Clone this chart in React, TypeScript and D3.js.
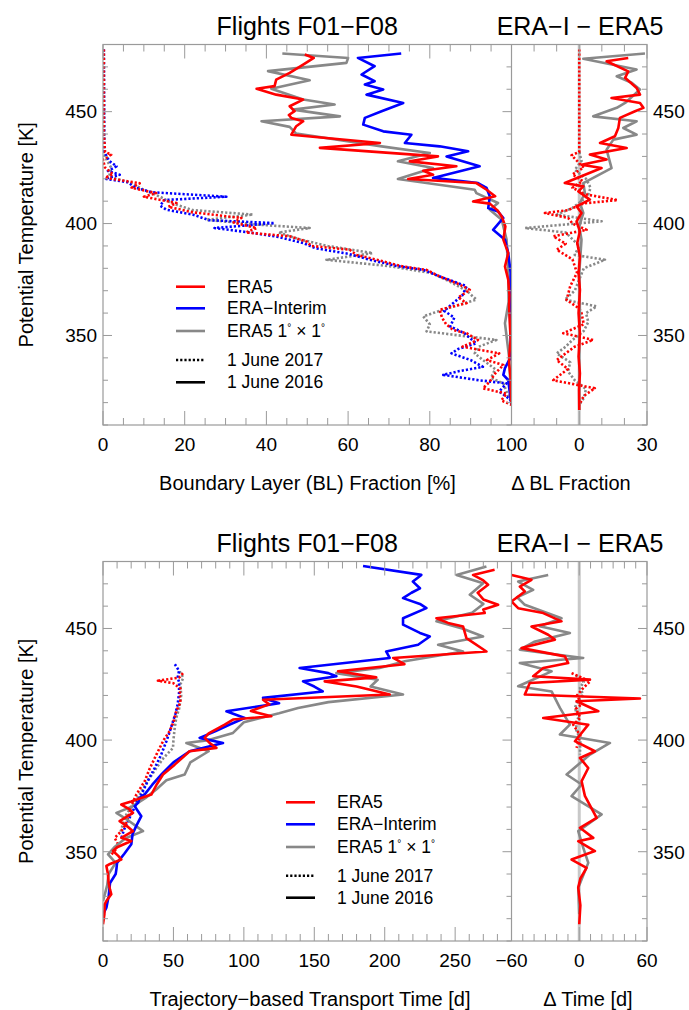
import React from 'react';
import * as d3 from 'd3';

type P = [number, number][]; // [theta (K), value]

// ---------- TOP PANEL: Boundary layer fraction (%) ----------
const blEra5_2016: P = [[475.5,49.4],[474,51.6],[471,49],[467.3,45.7],[464.3,42.4],[461.4,42],[460.2,37.6],[457.6,42.4],[455.4,49],[452.4,45.7],[450.2,46.9],[448.5,45.5],[447.2,46.1],[445.7,49],[443.5,47.3],[439.7,46.1],[436,67.8],[433.8,53.1],[430,82],[427.8,75.1],[425.6,86.5],[423.6,78.4],[421.8,80.8],[419.9,74.7],[418.1,91.4],[415.1,93.9],[412.2,96],[409.9,90.6],[408.9,94.7],[406,96.5],[403.2,97.6],[398.7,98.5],[392.8,98],[386.8,99.2],[380.8,98.4],[374.9,99.2],[368,99.5],[363,99.4],[355,99.6],[348,99.8],[342,99.5],[337.6,99.4],[331,99.8],[325.7,99.8],[319,100]];
const blEraI_2016: P = [[476,73],[474,62.4],[470.3,66.5],[466.6,63.3],[463.6,66.5],[462.1,64.1],[459.9,68.6],[457.6,64.5],[453.9,73.5],[450.2,68.2],[447.2,64.1],[444.2,63.7],[441.2,68.6],[439.7,75.5],[436,73.9],[434.5,82.4],[432.3,89.4],[430,84.1],[425.6,92.2],[420.4,80.8],[418.1,91.8],[415.9,93.9],[412.1,94.7],[406.9,94.3],[405.4,96.7],[402.5,98],[397.2,95.5],[392.8,98.4],[386.8,99.2],[377.9,99.8],[363,99.6],[348,99.8],[340,99.7],[335.4,98.4],[332.4,98],[330.1,99.2],[321.2,99.8],[319,100]];
const blEra5x1_2016: P = [[476,43.9],[474,60],[471.8,59.6],[468.1,40.4],[464,50.6],[460.2,41.2],[455.4,49],[453.2,56.7],[450.9,46.5],[447.9,58],[445.7,38.8],[443.2,45.7],[440.2,47.3],[434.5,68.2],[431.5,80],[427.8,72.2],[424.8,80.8],[419.9,72.2],[415.1,91],[413.6,91.4],[409.2,96.7],[406.2,94.7],[401.7,97.6],[392.8,98.8],[377.9,99.2],[365,99.3],[355.5,98.4],[352.5,98.6],[340.6,99.4],[325.7,99.8],[319,100]];
const blEra5_2017: P = [[477.8,0.2],[440,0.2],[432,0.5],[430.8,2],[428.5,0],[425,0.5],[422,2.5],[420.5,0.5],[418,9],[416,7],[413.6,13],[412,10],[409.2,18],[407.5,16],[405,22],[402.5,33.9],[400.5,32],[398,37.6],[396,35],[394.3,45.7],[392,49.8],[390,51],[388.3,60.4],[386,62],[383.8,67],[380.8,73.5],[379.3,79.2],[376.4,82.4],[373,87],[370.4,89.8],[367,87],[364.4,89],[361.5,82.4],[358,83],[355,84],[352.5,85.7],[351,89],[348,91.8],[345,88],[342,97],[339,94],[336.8,98],[333,96],[329,94.5],[326.4,93],[324,98.8],[321,97.5],[319,100]];
const blEraI_2017: P = [[477.8,0.2],[432,0.3],[428,1.5],[425.6,3.3],[423.5,1.2],[421.8,4.1],[420,0.5],[418.5,6],[416,8],[414,12],[412,30.2],[410.5,15],[408,14],[406.2,15.5],[404,22],[401.5,26],[400.2,42],[398,27.3],[396,36],[394,43],[391.3,49],[389,52],[386.5,60],[384,65],[381,72],[379.3,78.4],[376,83],[372,89],[368,88],[364.4,85.7],[361,83.5],[358,86],[354,85],[351,88.5],[348.5,90],[346.5,91.4],[344,87],[342,85.3],[339,90],[336,93],[334,87],[332.4,83.3],[330,92],[328.6,98.8],[325,97],[321,100]];
const blEra5x1_2017: P = [[477.8,0.2],[431,0.3],[428,1],[425,2],[421,1.5],[418,7],[415,10],[412,14],[409,17],[406,22],[404,36.7],[401.7,25.3],[399.5,38],[398,50.6],[396,43],[393,48],[390,55],[386.8,66],[383.8,54.7],[381,70],[377.9,80.4],[374,85],[370,89],[366,91.4],[362,84],[358.5,78.4],[355,80],[351.8,79.2],[348,96.3],[345,92],[342,91],[339,93],[335,96],[331,95],[328.6,98],[324,99],[320,100]];

// ERA-I minus ERA5 differences of BL fraction
const dBlRed_2016: P = [[474,21.7],[472.5,12.1],[468,21.7],[465.1,20.3],[460.6,25.4],[457.6,26.9],[456.1,14.3],[453.9,26.9],[451.7,28.4],[450.2,24.7],[447.2,18],[442.7,17.3],[439,15.8],[436,9.2],[433.8,21],[430.8,4.7],[428.6,12.1],[426.3,1],[424.8,9.9],[418.1,-6.4],[416.6,1.8],[414.4,-0.4],[410.7,4.7],[407.7,-1.2],[404.7,1],[401,-1.2],[396.5,0.3],[391.3,-0.9],[385.3,0.3],[377.9,-0.3],[370.4,0.3],[360,-0.3],[351,0.3],[340.6,-0.3],[333.1,0.3],[325.7,-0.1],[316.7,0]];
const dBlGray_2016: P = [[476,29.1],[473.6,1.8],[468.8,25.4],[465.8,16.6],[462.9,23.2],[459.9,26.9],[453.9,20.3],[451.7,16.6],[447.9,6.2],[445.7,25.4],[442.7,19.5],[439.7,25.4],[437.5,15.1],[433,12.1],[424.8,14.3],[418.1,1.8],[413.6,2.5],[409.2,0.3],[404.7,1.8],[398.7,0],[392.8,1],[377.9,0],[360,0.3],[340,0],[316.7,0]];
const dBlRed_2017: P = [[477.8,0],[432,0],[430.5,-3.4],[428,-1],[425,2],[422,-3],[419,1.5],[416,-3],[413,3],[410.5,17],[409,2],[406,-5],[404.7,-15.2],[402.5,-4.9],[400,-3],[397.2,3.3],[394.3,-11.5],[391,-6],[388.3,-10],[384,-3],[378,-1],[372,-4],[365.9,-5.6],[362,0],[360,1],[355,2],[351,-7.1],[348,6.2],[345,-2],[342,-6],[339,-10],[335,-5],[332,-9],[330,-11.5],[326.4,6.9],[323,2],[321,1],[319,0]];
const dBlGray_2017: P = [[432,0],[428,1],[424,-2],[420,3],[416,5],[412.9,4],[410,1],[407,-3],[404,-10],[401,9.9],[398,-24],[396,-6],[393,-3],[390,0],[386,-2],[383.8,11.4],[380,2],[375,0],[370,-2],[366,-6.4],[363,7.7],[360,3],[356,4],[352,2],[348,-3],[345,-6],[342,-10],[338,-4],[334,-5],[330,-2],[326,3],[322,2],[319,0]];

// ---------- BOTTOM PANEL: transport time (days) ----------
const ttEra5_2016: P = [[476.3,278],[474,262.7],[471.5,270],[469.6,273.4],[466,266],[463,270],[460.6,280.5],[458.5,270],[456.9,271],[454.6,236.7],[452.5,245],[450.9,255.6],[445.7,258],[439.7,272.2],[436.8,206],[434,214],[430.8,166.9],[428.1,194],[426.3,157.4],[424,180],[420.4,203.6],[418.1,113.6],[416,118],[413,105],[410.7,119.5],[409.2,92.3],[406.9,86.4],[403,75],[401,72.2],[398.5,76],[396.5,80.5],[395,61.5],[389,50.9],[384.6,42.6],[380,38],[375.6,34.3],[372.5,20],[371.1,13],[369,19],[367.4,21.3],[363.7,11.8],[361,18],[359.2,21.3],[356.2,13],[354.8,20.1],[352,10],[350.3,7.1],[348,11],[346.5,13],[344.5,5],[343.6,2.4],[340,3.5],[336,4],[333,5],[330.9,5.9],[328,2.5],[326.4,1.2],[322,1],[317.5,0]];
const ttEraI_2016: P = [[478,184.6],[474,226],[471,220],[468,225],[466,219],[463.6,213],[461,225],[459.1,229.6],[454.6,213],[451.7,213],[448,225],[446.4,232],[442.7,223.7],[439.7,201],[436.8,203.5],[432.3,139.6],[430,160],[428.6,165.7],[426.3,142],[424,150],[421.8,156],[418.9,113.6],[416.5,125],[412.9,87.6],[409.9,100.6],[407,90],[404,80],[401,68.6],[398.7,85.2],[395,61.5],[390,50],[385,42],[380,35],[376,30],[374.1,26],[372,25],[370.4,22.5],[365.9,27.2],[362,24],[358,21],[353.3,20.1],[349,15],[345,10],[342.1,9.5],[340,9],[336,5],[330,4],[324.9,2.4],[321.9,0]];
const ttEra5x1_2016: P = [[477.8,272.2],[474,251],[470.3,269.9],[465.1,260.4],[461,270],[457,262],[453.2,236.7],[450,255],[446.4,269.8],[442.7,237.9],[439.7,255.6],[435.3,214.2],[432.3,196.4],[430,165.7],[427,195],[424,190],[420.4,213],[417,160],[414.4,138.5],[412,125],[408,100],[403.2,92.3],[400,75],[398.7,59.2],[395,75],[390,62],[384.6,58],[382,45],[378,38],[374,30],[370,20],[367.4,9.5],[364,18],[359.2,28.4],[356,16],[352,8],[348.8,3.6],[345,9],[340,4],[335,3],[327.9,0]];
const ttEra5_2017: P = [[430,56.8],[428,54],[426.6,39],[425.5,50],[423,55],[420.4,54.4],[417,55],[412.9,52],[408,50],[404,47.3],[400,43],[393.5,37.9],[387,33],[381.6,29.6],[375.6,23.7],[372,21],[368,19],[365.2,17.8],[362,16],[359.2,13],[356.2,8.3],[353,11],[350,8],[348.8,5.9]];
const ttEraI_2017: P = [[434,51],[431,54],[428,53],[426,54],[421,54],[416,53],[412,51.5],[408.4,49.7],[404,47.5],[399.5,45],[393,41],[387.5,36.7],[382,32],[377.1,28.4],[372,24],[368,21],[365.2,18.9],[360,15],[356,13]];
const ttEra5x1_2017: P = [[430.8,54.4],[428,57],[425,55],[420,55.5],[414,54],[410,52],[405.4,50.9],[400,50],[396.5,49.7],[392,43],[387.5,37.9],[381,31],[375.6,26],[371,21],[366.7,16.6],[362,14],[358,12]];

// ERA-I minus ERA5 differences of transport time
const dTtRed_2016: P = [[474,-60],[471.8,-42.3],[468.8,-52.6],[466.6,-48.2],[462.1,-60],[459.1,-54.1],[456.9,-31.9],[453.2,-15.7],[450.9,-42.3],[447.2,-27.5],[445,-21.6],[441.2,-51.1],[437.5,-12.7],[434.5,-9.8],[432.3,-31.9],[428.6,-40.8],[427.1,9.5],[425.6,-43.8],[420.4,-48.2],[418.6,53.8],[417.4,-2.4],[412.9,16.9],[409.9,-31.9],[406.9,8],[399.5,-3.8],[395,13.9],[392,0.6],[387.5,8],[381.6,2.1],[375,5],[365.2,15.4],[360.7,0.6],[356.2,12.4],[354.7,-0.9],[350.3,13.9],[346.5,-6.8],[342.8,6.5],[338,1],[333.9,-0.9],[326,1],[317.5,0]];
const dTtGray_2016: P = [[474,-27.5],[471,-54.1],[467.3,-40.8],[464,-55],[460.6,-48.2],[454.6,-15.7],[451,-35],[448,-8.3],[444,-40],[440.5,-52.6],[436.8,3.5],[434.5,-52.6],[430.8,-24.5],[424.1,-54.1],[421.8,-24.5],[414.4,-17.1],[406.9,-8.3],[402.5,-17.1],[398.7,27.2],[393.5,9.5],[384.6,-11.2],[380.1,2.1],[374.9,-6.8],[366.7,19.8],[359.2,-0.9],[351.8,3.5],[345,8],[333.9,-0.9],[322,0]];
const dTtRed_2017: P = [[430,-6.8],[428,2],[426.3,9.5],[423,3],[420,-2],[416,2],[414,-3],[410,1],[406.9,-5.3],[402,1],[396.5,-2.4]];
const dTtGray_2017: P = [[429,-3],[426,4],[423.4,0.6],[420.4,3.5],[417,-2],[414.4,-3.8],[410,-1],[405,-3],[400,1],[393.5,0.6]];

// axis ticks / labels
const THETA_DOMAIN: [number, number] = [310, 480];
const blTickLabels = [0, 20, 40, 60, 80, 100];
const dBlTickLabels = [0, 30];
const ttTickLabels = [0, 50, 100, 150, 200, 250];
const dTtTickLabels = [-60, 0, 60];
const thetaTickLabels = [350, 400, 450];
const legendNames = ['ERA5', 'ERA\u2212Interim', 'ERA5 1x1', '1 June 2017', '1 June 2016'];

const RED = '#ff0000', BLUE = '#0000ff', GRAY = '#888888';
const FRAME = '#9a9a9a';
const FONT = "'Liberation Sans', Arial, Helvetica, sans-serif";

const fmt = (v: number) => (v < 0 ? '\u2212' + Math.abs(v) : String(v));

type Series = { data: P; color: string; dotted: boolean };

interface PanelProps {
  id: string;
  top: number;
  bottom: number;
  mainDomain: [number, number];
  rightDomain: [number, number];
  mainMinor: number;
  mainMajor: number;
  rightMinor: number;
  rightMajor: number[];
  mainLabels: number[];
  rightLabels: number[];
  mainSeries: Series[];
  rightSeries: Series[];
  title1: string;
  title2: string;
  xTitle: string;
  xTitleX: number;
  dTitle: string;
  dTitleX: number;
  legendX: number;
  legendY: number[];
}

const X0 = 103, X1 = 511.5, X2 = 647;

function Panel(p: PanelProps) {
  const y = d3.scaleLinear().domain(THETA_DOMAIN).range([p.bottom, p.top]);
  const xm = d3.scaleLinear().domain(p.mainDomain).range([X0, X1]);
  const xr = d3.scaleLinear().domain(p.rightDomain).range([X1, X2]);
  const lineM = d3.line<[number, number]>().x(d => xm(d[1])).y(d => y(d[0]));
  const lineR = d3.line<[number, number]>().x(d => xr(d[1])).y(d => y(d[0]));
  const thetaTicks = d3.range(THETA_DOMAIN[0], THETA_DOMAIN[1] + 0.1, 10);
  const mainTicks = d3.range(p.mainDomain[0], p.mainDomain[1] + 0.01, p.mainMinor);
  const rightTicks = d3.range(p.rightDomain[0], p.rightDomain[1] + 0.01, p.rightMinor);
  const majLen = 14, minLen = 7, yMaj = 9, yMin = 5;
  const seriesEl = (s: Series, gen: any, i: number) => (
    <path key={i} d={gen(s.data) || ''} fill="none" stroke={s.color} strokeWidth={2.6}
      strokeDasharray={s.dotted ? '2.2 2' : undefined} strokeLinejoin="round" />
  );
  const legColors = [RED, BLUE, GRAY, '#000', '#000'];
  return (
    <g>
      <defs>
        <clipPath id={p.id + 'm'}><rect x={X0} y={p.top} width={X1 - X0} height={p.bottom - p.top} /></clipPath>
        <clipPath id={p.id + 'r'}><rect x={X1} y={p.top} width={X2 - X1} height={p.bottom - p.top} /></clipPath>
      </defs>
      {/* titles */}
      <text x={(X0 + X1) / 2} y={p.top - 9.5} textAnchor="middle" fontSize={25} fontFamily={FONT}>{p.title1}</text>
      <text x={580} y={p.top - 9.5} textAnchor="middle" fontSize={25} fontFamily={FONT}>{p.title2}</text>
      {/* zero line right panel */}
      <line x1={xr(0)} x2={xr(0)} y1={p.top} y2={p.bottom} stroke="#c8c8c8" strokeWidth={3} />
      <g clipPath={`url(#${p.id}m)`}>{p.mainSeries.map((s, i) => seriesEl(s, lineM, i))}</g>
      <g clipPath={`url(#${p.id}r)`}>{p.rightSeries.map((s, i) => seriesEl(s, lineR, i))}</g>
      {/* frames */}
      <rect x={X0} y={p.top} width={X2 - X0} height={p.bottom - p.top} fill="none" stroke={FRAME} strokeWidth={1.2} />
      <line x1={X1} x2={X1} y1={p.top} y2={p.bottom} stroke={FRAME} strokeWidth={1.2} />
      {/* x ticks main */}
      {mainTicks.map((v, i) => {
        const L = Math.abs(v % p.mainMajor) < 1e-6 ? majLen : minLen;
        return (
          <g key={'mt' + i} stroke={FRAME} strokeWidth={1}>
            <line x1={xm(v)} x2={xm(v)} y1={p.bottom} y2={p.bottom - L} />
            <line x1={xm(v)} x2={xm(v)} y1={p.top} y2={p.top + L} />
          </g>
        );
      })}
      {rightTicks.map((v, i) => {
        const L = p.rightMajor.includes(v) ? majLen : minLen;
        return (
          <g key={'rt' + i} stroke={FRAME} strokeWidth={1}>
            <line x1={xr(v)} x2={xr(v)} y1={p.bottom} y2={p.bottom - L} />
            <line x1={xr(v)} x2={xr(v)} y1={p.top} y2={p.top + L} />
          </g>
        );
      })}
      {/* y ticks */}
      {thetaTicks.map((t, i) => {
        const L = t % 50 === 0 ? yMaj : yMin;
        return (
          <g key={'yt' + i} stroke={FRAME} strokeWidth={1}>
            <line x1={X0} x2={X0 + L} y1={y(t)} y2={y(t)} />
            <line x1={X1} x2={X1 - L} y1={y(t)} y2={y(t)} />
            <line x1={X2} x2={X2 - L} y1={y(t)} y2={y(t)} />
          </g>
        );
      })}
      {/* tick labels */}
      {p.mainLabels.map(v => (
        <text key={'ml' + v} x={xm(v)} y={p.bottom + 25.7} textAnchor="middle" fontSize={19} fontFamily={FONT}>{fmt(v)}</text>
      ))}
      {p.rightLabels.map(v => (
        <text key={'rl' + v} x={xr(v)} y={p.bottom + 25.7} textAnchor="middle" fontSize={19} fontFamily={FONT}>{fmt(v)}</text>
      ))}
      {thetaTickLabels.map(t => (
        <g key={'tl' + t}>
          <text x={97} y={y(t) + 6.8} textAnchor="end" fontSize={19} fontFamily={FONT}>{t}</text>
          <text x={653} y={y(t) + 6.8} textAnchor="start" fontSize={19} fontFamily={FONT}>{t}</text>
        </g>
      ))}
      {/* axis titles */}
      <text x={p.xTitleX} y={p.bottom + 65} textAnchor="middle" fontSize={20} fontFamily={FONT}>{p.xTitle}</text>
      <text x={p.dTitleX} y={p.bottom + 65} textAnchor="middle" fontSize={20} fontFamily={FONT}>{p.dTitle}</text>
      <text transform={`translate(33,${(p.top + p.bottom) / 2}) rotate(-90)`} textAnchor="middle" fontSize={20} fontFamily={FONT}>Potential Temperature [K]</text>
      {/* legend */}
      {legendNames.map((n, i) => (
        <g key={'lg' + i}>
          <line x1={p.legendX} x2={p.legendX + 29} y1={p.legendY[i]} y2={p.legendY[i]} stroke={legColors[i]} strokeWidth={2.6}
            strokeDasharray={i === 3 ? '2.2 2' : undefined} />
          <text x={p.legendX + 51} y={p.legendY[i] + 6} fontSize={17.5} fontFamily={FONT}>
            {i === 2 ? (
              <>
                {'ERA5 1'}<tspan dy={-6} fontSize={10}>{'\u00b0'}</tspan><tspan dy={6}>{' \u00d7 1'}</tspan><tspan dy={-6} fontSize={10}>{'\u00b0'}</tspan>
              </>
            ) : n}
          </text>
        </g>
      ))}
    </g>
  );
}

export default function App() {
  const topMain: Series[] = [
    { data: blEra5x1_2017, color: GRAY, dotted: true },
    { data: blEraI_2017, color: BLUE, dotted: true },
    { data: blEra5_2017, color: RED, dotted: true },
    { data: blEra5x1_2016, color: GRAY, dotted: false },
    { data: blEraI_2016, color: BLUE, dotted: false },
    { data: blEra5_2016, color: RED, dotted: false },
  ];
  const topRight: Series[] = [
    { data: dBlGray_2017, color: GRAY, dotted: true },
    { data: dBlRed_2017, color: RED, dotted: true },
    { data: dBlGray_2016, color: GRAY, dotted: false },
    { data: dBlRed_2016, color: RED, dotted: false },
  ];
  const botMain: Series[] = [
    { data: ttEra5x1_2017, color: GRAY, dotted: true },
    { data: ttEraI_2017, color: BLUE, dotted: true },
    { data: ttEra5_2017, color: RED, dotted: true },
    { data: ttEra5x1_2016, color: GRAY, dotted: false },
    { data: ttEraI_2016, color: BLUE, dotted: false },
    { data: ttEra5_2016, color: RED, dotted: false },
  ];
  const botRight: Series[] = [
    { data: dTtGray_2017, color: GRAY, dotted: true },
    { data: dTtRed_2017, color: RED, dotted: true },
    { data: dTtGray_2016, color: GRAY, dotted: false },
    { data: dTtRed_2016, color: RED, dotted: false },
  ];
  return (
    <svg width={689} height={1010} style={{ position: 'absolute', left: 0, top: 0, background: '#fff' }}>
      <rect x={0} y={0} width={689} height={1010} fill="#fff" />
      <Panel id="p1" top={44.5} bottom={425} mainDomain={[0, 100]} rightDomain={[-30, 30]}
        mainMinor={5} mainMajor={20} rightMinor={10} rightMajor={[-30, 0, 30]}
        mainLabels={blTickLabels} rightLabels={dBlTickLabels}
        mainSeries={topMain} rightSeries={topRight}
        title1={'Flights F01\u2212F08'} title2={'ERA\u2212I \u2212 ERA5'}
        xTitle="Boundary Layer (BL) Fraction [%]" xTitleX={307.5}
        dTitle={'\u0394 BL Fraction'} dTitleX={571}
        legendX={176} legendY={[286.7, 308.3, 331, 360, 382.3]} />
      <Panel id="p2" top={561.5} bottom={941} mainDomain={[0, 290]} rightDomain={[-60, 60]}
        mainMinor={10} mainMajor={50} rightMinor={10} rightMajor={[-60, 0, 60]}
        mainLabels={ttTickLabels} rightLabels={dTtTickLabels}
        mainSeries={botMain} rightSeries={botRight}
        title1={'Flights F01\u2212F08'} title2={'ERA\u2212I \u2212 ERA5'}
        xTitle={'Trajectory\u2212based Transport Time [d]'} xTitleX={310}
        dTitle={'\u0394 Time [d]'} dTitleX={588}
        legendX={286} legendY={[802.3, 824.3, 847, 875.7, 897.7]} />
    </svg>
  );
}
